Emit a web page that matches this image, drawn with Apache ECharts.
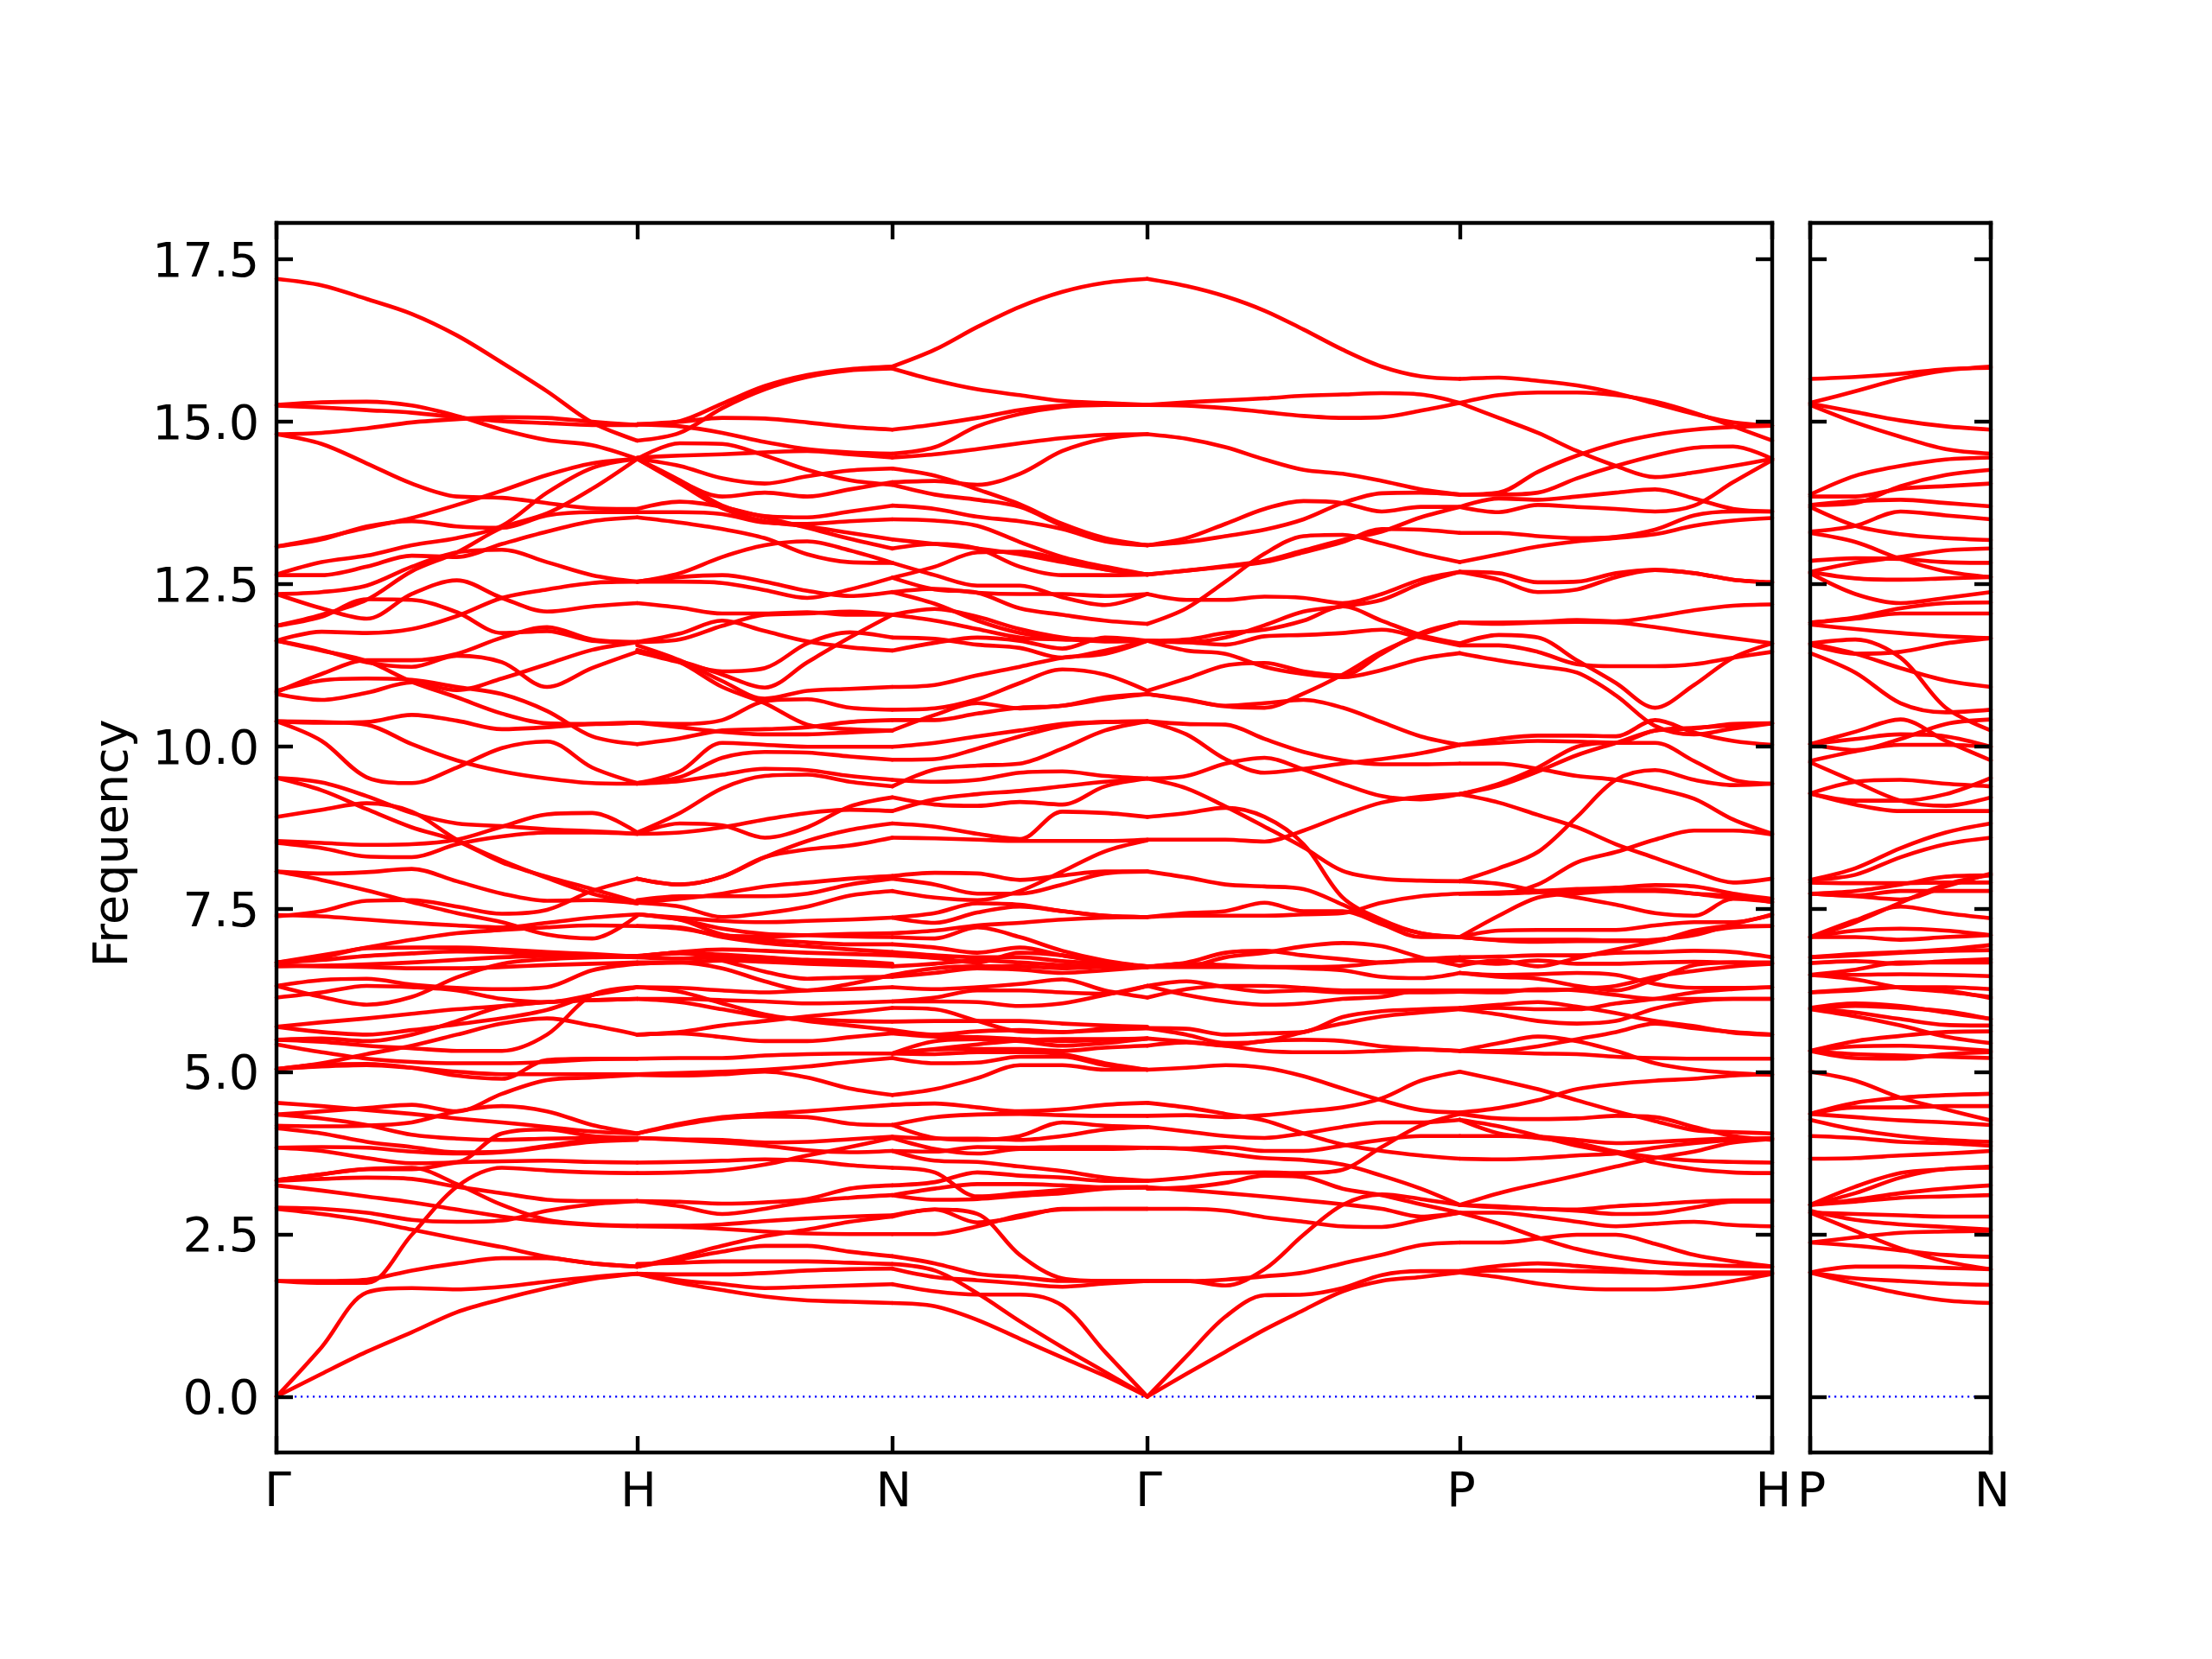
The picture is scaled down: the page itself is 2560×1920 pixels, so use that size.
<!DOCTYPE html>
<html><head><meta charset="utf-8">
<style>html,body{margin:0;padding:0;background:#fff}#c{width:2560px;height:1920px}</style>
<script src="https://cdn.jsdelivr.net/npm/echarts@6/dist/echarts.min.js"></script>
</head><body><div id="c"></div>
<script>
const mainTicks=[0,1,1.7071,2.4142,3.2802,4.1463];
const mainLabels=['Γ','H','N','Γ','P','H'];
const sideTicks=[0,0.5];
const sideLabels=['P','N'];
const yTicks=[0,2.5,5,7.5,10,12.5,15,17.5];
const gammaH=[
[17.2,17.1,16.89,16.66,16.33,15.91,15.47,14.99,14.71],
[15.26,15.30,15.31,15.25,15.09,14.88,14.72,14.64,14.43],
[15.25,15.22,15.18,15.14,15.07,15.01,14.98,14.95,14.95],
[14.81,14.83,14.90,14.99,15.04,15.07,15.06,15.0,14.95],
[14.81,14.66,14.36,14.05,13.85,13.83,13.75,13.67,13.66],
[13.08,13.21,13.37,13.52,13.72,13.94,14.18,14.36,14.43],
[13.08,13.19,13.39,13.47,13.39,13.37,13.56,13.61,13.61],
[12.65,12.84,12.94,13.1,13.21,13.4,13.91,14.29,14.43],
[11.86,12.03,12.26,12.70,12.99,13.37,13.59,13.97,14.43],
[12.64,12.64,12.77,12.94,12.92,13.12,13.31,13.47,13.53],
[12.35,12.38,12.48,12.77,12.99,13.03,12.84,12.64,12.54],
[11.63,11.77,11.75,11.81,12.01,12.29,12.42,12.52,12.54],
[12.35,12.13,11.97,12.35,12.56,12.29,12.08,12.16,12.21],
[11.86,12.0,12.27,12.26,12.07,11.75,11.78,11.63,11.61],
[11.63,11.49,11.3,11.23,11.4,11.3,10.92,11.21,11.46],
[11.63,11.48,11.32,11.0,10.76,10.51,10.36,10.35,10.37],
[10.81,10.72,10.83,10.99,10.87,11.05,11.27,11.49,11.61],
[10.86,11.02,11.05,11.03,10.92,10.81,10.55,10.16,10.04],
[10.84,11.12,11.33,11.33,11.43,11.68,11.84,11.65,11.61],
[10.39,10.37,10.38,10.49,10.4,10.27,10.3,10.35,10.37],
[10.39,10.38,10.34,10.04,9.79,9.62,9.51,9.44,9.43],
[10.39,10.09,9.53,9.44,9.68,9.98,10.08,9.68,9.44],
[9.52,9.45,9.24,8.98,8.82,8.78,8.73,8.70,8.66],
[9.52,9.33,9.04,8.76,8.55,8.22,8.0,7.81,7.61],
[8.92,9.03,9.13,9.0,8.57,8.25,7.98,7.74,7.59],
[8.55,8.52,8.49,8.5,8.57,8.77,8.96,8.98,8.68],
[8.52,8.44,8.31,8.3,8.5,8.62,8.68,8.68,8.66],
[8.08,8.05,8.07,8.12,7.93,7.74,7.63,7.64,7.59],
[8.08,7.95,7.79,7.61,7.44,7.30,7.11,7.05,7.40],
[7.39,7.47,7.63,7.64,7.54,7.43,7.49,7.78,7.97],
[7.41,7.39,7.34,7.29,7.25,7.22,7.29,7.37,7.42],
[6.68,6.79,6.91,7.03,7.13,7.18,7.22,7.25,7.24],
[6.68,6.76,6.9,6.91,6.91,6.88,6.84,6.81,6.77],
[6.68,6.72,6.78,6.82,6.85,6.84,6.8,6.78,6.76],
[6.62,6.63,6.65,6.68,6.72,6.76,6.78,6.78,6.78],
[6.64,6.62,6.61,6.59,6.59,6.61,6.64,6.66,6.68],
[6.32,6.41,6.43,6.34,6.29,6.27,6.3,6.56,6.66],
[6.32,6.15,6.03,6.15,6.45,6.66,6.73,6.76,6.77],
[6.14,6.22,6.32,6.3,6.25,6.12,6.07,6.18,6.3],
[5.69,5.76,5.82,5.89,5.96,6.01,6.07,6.10,6.12],
[5.69,5.61,5.57,5.64,5.73,5.82,5.95,6.18,6.3],
[5.49,5.51,5.47,5.57,5.78,6.0,6.07,6.1,6.12],
[5.49,5.46,5.4,5.36,5.32,5.32,5.57,6.18,6.3],
[5.42,5.3,5.2,5.15,5.13,5.13,5.15,5.19,5.2],
[5.04,5.13,5.27,5.4,5.57,5.74,5.82,5.71,5.57],
[5.04,5.11,5.12,5.06,4.94,4.89,5.18,5.2,5.2],
[5.04,5.08,5.1,5.06,5.0,4.96,4.96,4.96,4.96],
[4.52,4.47,4.41,4.35,4.28,4.22,4.15,4.08,4.05],
[4.34,4.39,4.44,4.49,4.39,4.66,4.87,4.91,4.95],
[4.34,4.28,4.18,4.03,3.97,3.95,3.97,3.98,3.98],
[4.17,4.16,4.17,4.22,4.39,4.47,4.39,4.18,4.05],
[4.13,4.05,3.92,3.84,3.76,3.77,3.86,3.95,3.98],
[3.83,3.84,3.83,3.77,3.74,3.76,3.84,3.92,3.95],
[3.83,3.78,3.67,3.59,3.61,4.05,4.11,4.01,3.98],
[3.32,3.35,3.37,3.35,3.23,3.13,3.03,3.01,3.01],
[3.33,3.42,3.5,3.52,3.27,2.95,2.72,2.65,2.63],
[3.33,3.42,3.5,3.5,3.6,3.62,3.63,3.61,3.6],
[3.25,3.17,3.08,2.99,2.88,2.77,2.69,2.64,2.62],
[2.91,2.89,2.83,2.72,2.69,2.71,2.86,2.96,3.01],
[2.89,2.81,2.71,2.57,2.43,2.3,2.15,2.05,2.0],
[0,0.76,1.6,1.67,1.65,1.69,1.77,1.84,1.89],
[0,0.35,0.69,0.99,1.3,1.5,1.67,1.81,1.89],
[1.78,1.75,1.75,2.49,3.23,3.52,3.48,3.45,3.44],
[1.78,1.78,1.8,1.94,2.05,2.13,2.13,2.05,2.0]
];
const hN=[
[14.96,15.01,15.28,15.55,15.72,15.81,15.85],
[14.71,14.83,15.21,15.5,15.69,15.79,15.82],
[14.96,15.0,15.06,15.05,14.99,14.92,14.88],
[14.96,14.93,14.83,14.69,14.58,14.53,14.51],
[14.45,14.48,14.5,14.53,14.55,14.5,14.45],
[14.43,14.67,14.66,14.48,14.26,14.1,14.03],
[14.43,14.32,14.13,14.05,14.16,14.25,14.28],
[14.43,14.09,13.85,13.91,13.85,13.96,14.07],
[14.43,14.05,13.67,13.47,13.39,13.29,13.19],
[14.43,14.1,13.71,13.55,13.53,13.62,13.71],
[13.61,13.61,13.58,13.45,13.43,13.47,13.5],
[13.66,13.77,13.69,13.53,13.37,13.2,13.05],
[13.53,13.45,13.35,13.21,12.96,12.84,12.83],
[12.54,12.61,12.64,12.54,12.4,12.32,12.38],
[12.54,12.54,12.52,12.41,12.29,12.42,12.6],
[12.54,12.67,12.92,13.1,13.16,13.02,12.83],
[12.21,12.14,12.05,12.05,12.07,12.03,12.03],
[11.61,11.74,11.94,11.78,11.62,11.53,11.48],
[11.61,11.65,11.86,12.03,12.05,12.08,12.03],
[11.46,11.3,11.16,11.21,11.59,11.76,11.68],
[11.46,11.32,11.11,10.91,11.3,11.68,12.03],
[11.56,11.33,11.01,10.74,10.86,10.89,10.92],
[11.49,11.3,10.92,10.67,10.34,10.27,10.25],
[10.37,10.35,10.41,10.7,10.73,10.6,10.57],
[10.04,10.13,10.25,10.27,10.3,10.38,10.41],
[10.37,10.3,10.23,10.19,10.19,10.22,10.25],
[9.44,9.62,10.06,10.03,10.0,10.0,10.0],
[9.44,9.53,9.83,9.92,9.91,9.85,9.8],
[9.43,9.47,9.57,9.66,9.64,9.55,9.49],
[8.68,8.98,9.36,9.55,9.57,9.46,9.39],
[8.66,8.82,8.79,8.6,8.76,9.08,9.22],
[8.66,8.68,8.76,8.88,8.98,9.03,9.01],
[7.97,7.88,8.0,8.3,8.42,8.48,8.6],
[7.97,7.88,8.0,8.3,8.55,8.72,8.82],
[7.61,7.66,7.74,7.85,7.91,7.97,8.01],
[7.6,7.54,7.38,7.44,7.54,7.71,7.78],
[7.64,7.7,7.7,7.7,7.74,7.88,7.97],
[7.42,7.37,7.32,7.3,7.32,7.34,7.37],
[7.24,7.2,7.1,7.08,7.1,7.12,7.13],
[7.42,7.34,7.2,7.12,7.1,7.08,7.07],
[7.24,7.22,7.07,6.98,6.93,6.88,6.84],
[7.42,7.34,7.11,7.03,6.99,6.96,6.96],
[6.77,6.84,6.88,6.86,6.83,6.81,6.79],
[6.78,6.82,6.8,6.76,6.72,6.7,6.66],
[6.76,6.74,6.76,6.72,6.68,6.66,6.64],
[6.68,6.68,6.71,6.69,6.66,6.64,6.62],
[6.66,6.68,6.59,6.39,6.25,6.35,6.49],
[6.77,6.83,6.71,6.54,6.43,6.45,6.46],
[6.3,6.29,6.25,6.22,6.25,6.27,6.3],
[6.12,6.12,6.1,6.08,6.05,6.06,6.08],
[6.3,6.23,6.05,5.88,5.78,5.71,5.64],
[6.12,6.07,5.96,5.85,5.81,5.78,5.77],
[5.57,5.61,5.71,5.78,5.85,5.91,5.98],
[5.57,5.59,5.53,5.47,5.47,5.53,5.59],
[5.2,5.21,5.21,5.25,5.27,5.28,5.28],
[4.96,4.98,5.0,5.03,5.08,5.15,5.21],
[4.95,4.94,4.96,5.0,4.91,4.74,4.64],
[4.05,4.2,4.3,4.35,4.39,4.44,4.49],
[4.05,4.18,4.28,4.31,4.3,4.2,4.18],
[3.98,3.96,3.95,3.91,3.92,3.96,4.0],
[3.98,3.95,3.91,3.86,3.79,3.76,3.78],
[3.44,3.45,3.48,3.57,3.71,3.84,3.98],
[3.6,3.61,3.63,3.65,3.63,3.56,3.52],
[3.01,3.0,2.97,2.99,3.04,3.2,3.25],
[3.01,2.93,2.81,2.89,3.0,3.06,3.1],
[2.63,2.63,2.65,2.7,2.74,2.77,2.79],
[2.62,2.61,2.58,2.54,2.51,2.5,2.5],
[2.0,2.15,2.32,2.47,2.57,2.69,2.77],
[2.0,2.11,2.23,2.32,2.32,2.23,2.16],
[2.04,2.06,2.08,2.08,2.08,2.06,2.04],
[1.89,1.88,1.88,1.9,1.94,1.96,1.97],
[1.89,1.79,1.73,1.67,1.69,1.71,1.73],
[1.89,1.75,1.64,1.54,1.48,1.46,1.44]
];
const nGamma=[
[15.85,16.11,16.46,16.77,17.0,17.14,17.2],
[15.82,15.64,15.5,15.41,15.32,15.29,15.26],
[14.88,14.96,15.06,15.18,15.25,15.26,15.26],
[14.51,14.61,14.93,15.12,15.23,15.26,15.26],
[14.45,14.5,14.58,14.67,14.75,14.8,14.81],
[14.28,14.17,13.96,13.73,13.43,13.21,13.1],
[14.07,14.09,14.03,14.2,14.55,14.74,14.81],
[14.03,13.88,13.8,13.69,13.4,13.18,13.1],
[13.71,13.66,13.54,13.47,13.35,13.16,13.1],
[13.5,13.48,13.4,13.15,12.92,12.77,12.65],
[13.19,13.12,13.05,12.96,12.84,12.73,12.65],
[13.05,13.12,13.05,12.77,12.64,12.64,12.65],
[12.6,12.77,12.99,13.0,12.88,12.73,12.65],
[12.83,12.64,12.48,12.48,12.3,12.18,12.35],
[12.38,12.43,12.37,12.35,12.35,12.32,12.35],
[12.38,12.2,11.94,11.75,11.67,11.65,11.63],
[12.6,12.42,12.37,12.13,12.03,11.94,11.89],
[12.03,12.12,12.0,11.81,11.68,11.62,11.63],
[12.03,11.94,11.81,11.68,11.65,11.63,11.63],
[11.68,11.66,11.57,11.52,11.37,11.48,11.63],
[11.48,11.6,11.68,11.63,11.51,11.68,11.63],
[10.92,10.95,11.1,11.23,11.37,11.43,11.63],
[10.57,10.59,10.73,10.98,11.19,11.11,10.86],
[10.25,10.49,10.67,10.59,10.63,10.73,10.81],
[10.41,10.41,10.51,10.6,10.63,10.76,10.81],
[10.0,10.06,10.16,10.25,10.35,10.38,10.39],
[9.8,9.81,9.97,10.16,10.32,10.38,10.39],
[9.39,9.65,9.71,9.74,9.97,10.25,10.39],
[9.49,9.46,9.49,9.6,9.62,9.55,9.51],
[9.22,9.11,9.09,9.15,9.11,9.39,9.51],
[9.01,9.19,9.27,9.32,9.39,9.46,9.51],
[8.82,8.77,8.66,8.58,9.0,8.98,8.92],
[8.6,8.59,8.57,8.55,8.55,8.55,8.57],
[8.01,8.06,8.05,7.95,8.02,8.08,8.08],
[7.78,7.68,7.64,7.78,8.08,8.39,8.56],
[7.97,7.88,7.74,7.74,7.88,8.05,8.08],
[7.37,7.44,7.59,7.57,7.47,7.4,7.38],
[7.37,7.29,7.45,7.54,7.47,7.4,7.38],
[7.13,7.17,7.25,7.29,7.34,7.37,7.38],
[7.07,7.05,7.22,7.07,6.86,6.71,6.62],
[6.96,6.91,6.83,6.91,6.79,6.68,6.62],
[6.84,6.79,6.76,6.76,6.7,6.66,6.62],
[6.79,6.75,6.68,6.83,6.79,6.68,6.62],
[6.62,6.66,6.71,6.68,6.64,6.62,6.61],
[6.49,6.59,6.62,6.62,6.59,6.61,6.61],
[6.46,6.52,6.59,6.57,6.52,6.56,6.61],
[6.3,6.27,6.3,6.35,6.42,6.25,6.14],
[6.08,6.14,6.25,6.25,6.22,6.2,6.32],
[6.08,6.08,6.07,6.01,6.05,6.18,6.32],
[5.98,5.96,5.78,5.62,5.61,5.64,5.67],
[5.77,5.78,5.78,5.78,5.74,5.71,5.69],
[5.64,5.57,5.62,5.64,5.61,5.66,5.67],
[5.59,5.54,5.53,5.5,5.47,5.49,5.51],
[5.28,5.47,5.5,5.47,5.4,5.44,5.51],
[5.28,5.35,5.42,5.48,5.5,5.5,5.51],
[5.28,5.34,5.35,5.35,5.32,5.37,5.4],
[5.28,5.27,5.3,5.3,5.27,5.13,5.03],
[5.21,5.13,5.14,5.23,5.23,5.1,5.03],
[4.64,4.73,4.9,5.1,5.1,5.03,5.03],
[4.49,4.51,4.45,4.39,4.42,4.49,4.52],
[4.18,4.3,4.34,4.35,4.33,4.32,4.32],
[4.18,3.98,3.95,4.01,4.22,4.17,4.15],
[4.0,3.97,3.97,3.95,4.01,4.11,4.15],
[3.98,3.81,3.74,3.81,3.81,3.81,3.83],
[3.78,3.77,3.84,3.83,3.84,3.84,3.83],
[3.78,3.63,3.61,3.54,3.47,3.37,3.32],
[3.52,3.45,3.08,3.13,3.18,3.22,3.22],
[3.25,3.3,3.45,3.4,3.37,3.32,3.32],
[3.1,3.2,3.27,3.27,3.25,3.22,3.22],
[3.1,3.03,3.04,3.09,3.13,3.2,3.22],
[2.79,2.88,2.81,2.18,1.82,1.78,1.78],
[2.5,2.5,2.62,2.79,2.88,2.89,2.89],
[2.77,2.88,2.68,2.76,2.89,2.89,2.89],
[2.16,2.05,1.89,1.84,1.78,1.78,1.78],
[2.04,1.94,1.59,1.16,0.76,0.38,0],
[1.97,1.84,1.79,1.74,1.69,1.74,1.78],
[1.73,1.62,1.57,1.57,1.4,0.69,0],
[1.44,1.39,1.18,0.89,0.6,0.32,0]
];
const gammaP=[
[17.2,17.09,16.93,16.71,16.42,16.11,15.85,15.7,15.66],
[15.26,15.3,15.33,15.36,15.4,15.42,15.44,15.42,15.29],
[15.26,15.25,15.21,15.15,15.09,15.06,15.07,15.17,15.29],
[14.81,14.74,14.61,14.42,14.26,14.2,14.09,13.96,13.88],
[13.1,13.21,13.43,13.66,13.78,13.75,13.62,13.69,13.69],
[13.1,13.15,13.24,13.34,13.5,13.75,13.9,13.91,13.88],
[11.89,12.13,12.54,12.97,13.24,13.26,13.13,12.97,12.84],
[12.65,12.71,12.77,12.84,12.99,13.15,13.35,13.34,13.29],
[12.65,12.71,12.78,12.86,13.02,13.18,13.31,13.53,13.69],
[12.35,12.26,12.26,12.31,12.29,12.21,12.35,12.57,12.69],
[11.63,11.61,11.68,11.87,12.08,12.16,12.26,12.51,12.69],
[11.63,11.48,11.43,11.23,11.12,11.07,11.18,11.35,11.44],
[11.63,11.61,11.57,11.7,11.72,11.75,11.8,11.68,11.56],
[11.63,11.65,11.75,11.8,11.94,12.16,11.94,11.72,11.59],
[10.86,11.05,11.25,11.29,11.16,11.1,11.43,11.75,11.91],
[10.81,10.72,10.62,10.6,10.82,11.11,11.46,11.72,11.91],
[10.81,10.73,10.63,10.67,10.72,10.6,10.38,10.16,10.03],
[10.39,10.35,10.34,10.12,9.92,9.79,9.73,9.73,9.74],
[10.39,10.19,9.81,9.6,9.66,9.74,9.81,9.9,10.03],
[9.51,9.36,9.08,8.77,8.45,8.09,7.97,7.94,7.93],
[9.51,9.55,9.74,9.83,9.65,9.43,9.24,9.19,9.27],
[8.92,8.98,9.06,8.92,8.5,7.68,7.34,7.13,7.07],
[8.57,8.57,8.57,8.54,8.71,8.94,9.14,9.23,9.27],
[8.08,7.99,7.88,7.85,7.81,7.57,7.3,7.13,7.07],
[7.38,7.44,7.47,7.6,7.47,7.47,7.27,7.07,7.07],
[7.38,7.4,7.4,7.4,7.42,7.44,7.6,7.7,7.74],
[6.62,6.62,6.76,6.83,6.93,6.98,6.93,6.76,6.63],
[6.62,6.68,6.83,6.86,6.79,6.73,6.68,6.73,6.76],
[6.61,6.61,6.61,6.61,6.59,6.56,6.46,6.44,6.52],
[6.61,6.66,6.64,6.61,6.61,6.62,6.68,6.71,6.71],
[6.32,6.39,6.3,6.23,6.25,6.22,6.22,6.22,6.23],
[6.14,6.27,6.32,6.32,6.29,6.25,6.25,6.25,6.25],
[6.32,6.18,6.08,6.03,6.05,6.12,6.15,6.25,6.25],
[5.67,5.57,5.44,5.47,5.61,5.74,5.85,5.91,5.96],
[5.67,5.66,5.57,5.59,5.61,5.84,5.93,5.96,5.98],
[5.51,5.46,5.4,5.32,5.3,5.3,5.32,5.34,5.32],
[5.4,5.45,5.4,5.47,5.49,5.47,5.39,5.35,5.32],
[5.03,5.06,5.1,5.06,4.93,4.74,4.56,4.41,4.37],
[4.52,4.45,4.35,4.25,4.05,3.88,3.78,3.71,3.66],
[4.32,4.33,4.3,4.33,4.39,4.45,4.59,4.86,5.0],
[4.15,4.08,4.01,3.98,4.05,4.15,4.22,4.22,4.26],
[3.83,3.82,3.84,3.78,3.78,3.86,3.95,4.01,4.01],
[3.83,3.81,3.74,3.67,3.64,3.57,3.4,3.2,2.95],
[3.32,3.37,3.44,3.45,3.44,3.49,3.84,4.17,4.35],
[3.22,3.18,3.13,3.08,3.02,2.96,2.89,2.77,2.83],
[3.2,3.22,3.29,3.4,3.38,3.2,3.1,2.96,2.83],
[1.78,1.78,1.71,1.96,2.49,2.95,3.11,3.04,2.95],
[2.89,2.89,2.86,2.76,2.69,2.62,2.61,2.72,2.83],
[1.78,1.78,1.8,1.85,1.91,2.05,2.18,2.33,2.37],
[0,0.62,1.23,1.56,1.57,1.67,1.87,1.93,1.93],
[0,0.35,0.69,1.03,1.33,1.62,1.78,1.84,1.91]
];
const pH=[
[15.66,15.68,15.63,15.56,15.44,15.28,15.12,14.99,14.94],
[15.29,15.41,15.45,15.45,15.41,15.31,15.14,14.93,14.71],
[15.29,15.06,14.83,14.55,14.32,14.15,14.22,14.32,14.43],
[13.88,13.91,14.23,14.48,14.67,14.8,14.88,14.92,14.94],
[13.88,13.88,13.91,14.13,14.32,14.48,14.6,14.62,14.43],
[13.69,13.61,13.72,13.69,13.66,13.62,13.71,14.07,14.41],
[13.69,13.82,13.8,13.85,13.91,13.96,13.82,13.66,13.62],
[13.29,13.29,13.24,13.21,13.23,13.34,13.56,13.62,13.62],
[12.84,12.96,13.08,13.16,13.21,13.27,13.4,13.48,13.52],
[12.69,12.67,12.53,12.54,12.67,12.72,12.67,12.57,12.53],
[12.69,12.57,12.38,12.42,12.61,12.72,12.67,12.57,12.53],
[11.91,11.91,11.92,11.95,11.93,12.0,12.1,12.17,12.19],
[11.91,11.89,11.91,11.92,11.91,11.84,11.75,11.67,11.59],
[11.59,11.72,11.68,11.33,10.98,10.6,10.95,11.37,11.59],
[11.56,11.56,11.46,11.27,11.24,11.24,11.27,11.37,11.46],
[11.44,11.33,11.24,11.14,10.79,10.32,10.19,10.28,10.36],
[10.03,10.12,10.17,10.17,10.16,10.41,10.22,10.09,10.03],
[10.03,10.06,10.09,10.08,10.06,10.25,10.28,10.35,10.36],
[9.74,9.74,9.66,9.55,9.49,9.36,9.2,8.88,8.66],
[9.27,9.43,9.68,10.0,10.06,10.06,9.78,9.49,9.43],
[9.27,9.4,9.62,9.87,10.06,10.25,10.29,10.33,10.36],
[9.27,9.14,8.95,8.76,8.5,8.29,8.08,7.91,7.97],
[7.93,8.13,8.38,8.92,9.49,9.64,9.49,9.41,9.43],
[7.74,7.74,7.88,8.22,8.38,8.57,8.71,8.71,8.65],
[7.93,7.89,7.78,7.68,7.57,7.44,7.4,7.66,7.61],
[7.74,7.76,7.78,7.81,7.83,7.87,7.85,7.74,7.66],
[7.74,7.74,7.76,7.78,7.79,7.8,7.74,7.67,7.66],
[7.07,7.4,7.68,7.74,7.78,7.78,7.74,7.7,7.61],
[7.07,7.17,7.18,7.18,7.18,7.25,7.3,7.3,7.42],
[7.07,7.02,7.0,7.01,7.01,7.03,7.1,7.27,7.41],
[7.07,7.03,7.03,7.03,7.02,7.02,7.17,7.24,7.24],
[6.76,6.77,6.79,6.79,6.83,6.84,6.86,6.84,6.76],
[6.63,6.71,6.62,6.75,6.88,7.0,7.13,7.22,7.24],
[6.71,6.66,6.71,6.66,6.66,6.68,6.69,6.68,6.68],
[6.52,6.46,6.43,6.32,6.25,6.42,6.64,6.68,6.66],
[6.52,6.49,6.5,6.52,6.49,6.35,6.29,6.29,6.3],
[6.23,6.22,6.27,6.25,6.18,6.12,6.12,6.12,6.12],
[6.25,6.25,6.25,6.27,6.32,6.46,6.55,6.62,6.66],
[5.98,6.03,6.07,6.0,5.9,5.78,5.7,5.6,5.57],
[5.96,5.88,5.78,5.74,5.78,5.97,6.08,6.12,6.12],
[5.96,5.98,5.96,5.96,6.05,6.12,6.22,6.27,6.3],
[5.32,5.44,5.54,5.47,5.32,5.13,5.03,4.98,4.95],
[5.32,5.32,5.39,5.5,5.61,5.74,5.67,5.61,5.57],
[5.32,5.3,5.28,5.27,5.23,5.21,5.2,5.2,5.2],
[5.0,4.87,4.73,4.56,4.39,4.24,4.1,4.07,4.05],
[4.37,4.44,4.56,4.73,4.81,4.86,4.89,4.94,4.96],
[4.35,4.28,4.27,4.28,4.32,4.3,4.15,4.01,3.95],
[4.26,4.16,4.01,3.86,3.75,3.6,3.5,3.45,3.44],
[4.01,4.01,4.0,3.95,3.9,3.92,3.95,3.97,3.97],
[3.66,3.65,3.67,3.71,3.74,3.83,3.9,3.95,3.98],
[4.26,4.05,3.98,3.9,3.77,3.68,3.63,3.61,3.6],
[2.95,3.13,3.27,3.4,3.54,3.67,3.77,3.91,3.96],
[2.95,2.91,2.89,2.86,2.81,2.82,2.91,3.0,3.0],
[2.95,2.93,2.89,2.88,2.93,2.96,3.0,3.02,3.02],
[2.83,2.83,2.77,2.69,2.62,2.66,2.69,2.64,2.62],
[2.83,2.66,2.45,2.27,2.15,2.07,2.03,2.01,2.0],
[2.37,2.37,2.43,2.49,2.49,2.35,2.18,2.08,2.0],
[1.93,2.01,2.05,2.01,1.96,1.91,1.89,1.89,1.89],
[1.91,1.84,1.74,1.67,1.65,1.65,1.69,1.78,1.89],
[1.93,1.94,1.94,1.93,1.92,1.91,1.91,1.91,1.91]
];
const pN=[
[15.66,15.69,15.74,15.81,15.83],[15.29,15.47,15.66,15.79,15.85],
[15.28,15.15,15.02,14.93,14.88],[15.26,14.99,14.77,14.58,14.51],
[13.88,14.17,14.32,14.42,14.45],[13.72,13.75,14.01,14.18,14.26],
[13.85,13.85,13.97,14.01,14.05],[13.72,13.78,13.8,13.75,13.7],
[13.69,13.4,13.27,13.21,13.18],[13.31,13.4,13.62,13.56,13.5],
[13.29,13.15,12.89,12.7,12.61],[12.86,12.9,12.89,12.84,12.83],
[12.69,12.83,12.92,13.02,13.05],[12.69,12.59,12.57,12.59,12.61],
[12.67,12.35,12.21,12.29,12.38],[11.91,11.97,12.05,12.05,12.05],
[11.91,11.99,12.13,12.21,12.22],[11.88,11.81,11.75,11.7,11.67],
[11.59,11.65,11.37,10.6,10.25],[11.59,11.43,11.21,11.02,10.92],
[11.57,11.43,11.46,11.59,11.67],[11.44,11.14,10.67,10.53,10.57],
[10.04,10.23,10.42,10.09,9.79],[10.04,10.12,10.19,10.16,10.0],
[10.04,9.95,10.12,10.35,10.42],[9.78,9.93,10.03,10.03,10.0],
[9.76,9.46,9.17,9.09,9.22],[9.28,9.46,9.49,9.43,9.39],
[9.28,9.17,9.17,9.27,9.52],[9.28,9.11,9.01,9.01,9.01],
[7.95,8.13,8.44,8.68,8.82],[7.95,8.03,8.3,8.5,8.6],
[7.91,7.9,7.9,7.91,7.91],[7.74,7.71,7.78,7.78,7.78],
[7.74,7.7,7.65,7.85,8.05],[7.74,7.78,7.88,8.0,8.02],
[7.07,7.33,7.54,7.44,7.36],[7.07,7.3,7.6,7.88,8.03],
[7.07,7.17,7.2,7.17,7.1],[7.07,7.07,7.03,7.07,7.1],
[6.76,6.81,6.84,6.88,6.95],[6.67,6.7,6.66,6.7,6.73],
[6.76,6.79,6.83,6.86,6.87],[6.49,6.57,6.68,6.68,6.68],
[6.49,6.42,6.29,6.23,6.15],[6.49,6.49,6.5,6.49,6.47],
[6.22,6.25,6.3,6.3,6.27],[6.22,6.27,6.3,6.25,6.13],
[5.98,6.05,6.01,5.91,5.81],[5.98,5.91,5.81,5.72,5.71],
[5.96,5.85,5.71,5.54,5.44],[5.96,6.01,5.98,5.93,5.81],
[5.32,5.47,5.55,5.61,5.62],[5.32,5.39,5.4,5.37,5.32],
[5.32,5.27,5.25,5.23,5.21],[5.32,5.21,5.2,5.27,5.3],
[5.0,4.86,4.6,4.42,4.25],[4.35,4.52,4.6,4.64,4.66],
[4.35,4.45,4.45,4.47,4.47],[4.35,4.3,4.25,4.22,4.18],
[4.26,4.11,4.01,3.95,3.92],[4.01,3.98,3.92,3.9,3.86],
[3.66,3.67,3.71,3.74,3.78],[2.95,3.23,3.44,3.5,3.54],
[2.95,3.13,3.37,3.5,3.52],[2.95,3.03,3.13,3.2,3.25],
[2.95,3.0,3.06,3.08,3.1],[2.83,2.81,2.79,2.77,2.77],
[2.86,2.72,2.65,2.61,2.57],[2.83,2.55,2.28,2.08,1.96],
[2.37,2.45,2.52,2.54,2.55],[2.37,2.32,2.25,2.18,2.15],
[1.91,2.0,2.0,1.98,1.96],[1.91,1.82,1.78,1.74,1.72],
[1.91,1.74,1.59,1.48,1.44]
];

const FONT='"DejaVu Sans"',FS=55.6,LW=4.6,AX=4.4,TL=19;
const yMin=-0.86,yMax=18.06;
const series=[];
function zeroLine(g,x0,x1){
  series.push({type:'line',xAxisIndex:g,yAxisIndex:g,data:[[x0,0],[x1,0]],symbol:'none',silent:true,z:1,
    lineStyle:{color:'#0000ff',width:2.2,type:[2.2,4.8]}});
}
zeroLine(0,mainTicks[0],mainTicks[5]);
zeroLine(2,sideTicks[0],sideTicks[1]);
function addSegment(bands,x0,x1,g){
  bands.forEach(b=>{
    series.push({type:'line',xAxisIndex:g,yAxisIndex:g,symbol:'none',silent:true,smooth:0.33,z:2,
      lineStyle:{color:'#ff0000',width:LW,cap:'round',join:'round'},
      data:b.map((v,i)=>[x0+(x1-x0)*i/(b.length-1),v])});
  });
}
[gammaH,hN,nGamma,gammaP,pH].forEach((bands,i)=>addSegment(bands,mainTicks[i],mainTicks[i+1],0));
addSegment(pN,sideTicks[0],sideTicks[1],2);

const line={show:true,onZero:false,lineStyle:{color:'#000',width:AX,cap:'square'}};
function xAx(grid,ticks,labels,pos,show){
  return {type:'value',gridIndex:grid,position:pos,min:ticks[0],max:ticks[ticks.length-1],z:10,
    axisLine:line,splitLine:{show:false},
    axisTick:{show:true,inside:true,length:TL,customValues:ticks,lineStyle:{color:'#000',width:AX}},
    axisLabel:show?{show:true,customValues:ticks,margin:20,showMinLabel:true,showMaxLabel:true,hideOverlap:false,
      padding:[0,0,0,3],fontFamily:FONT,fontSize:FS,color:'#000',formatter:(v,i)=>labels[ticks.indexOf(v)]}:{show:false}};
}
function yAx(grid,pos,show,name){
  return {type:'value',gridIndex:grid,position:pos,min:yMin,max:yMax,z:10,
    name:name||'',nameLocation:'middle',nameGap:159,nameRotate:90,
    nameTextStyle:{fontFamily:FONT,fontSize:FS,color:'#000',padding:[0,13,0,0]},
    axisLine:line,splitLine:{show:false},
    axisTick:{show:true,inside:true,length:TL,customValues:yTicks,lineStyle:{color:'#000',width:AX}},
    axisLabel:show?{show:true,customValues:yTicks,margin:20,verticalAlign:'top',lineHeight:10,fontFamily:FONT,fontSize:FS,color:'#000',
      formatter:v=>v.toFixed(1)}:{show:false}};
}
const chart=echarts.init(document.getElementById('c'),null,{renderer:'canvas',width:2560,height:1920});
const g1={left:320,top:258,width:1731,height:1423};
const g2={left:2095,top:258,width:209,height:1423};
chart.setOption({
  animation:false,backgroundColor:'#fff',
  grid:[g1,g2],
  xAxis:[
    xAx(0,mainTicks,mainLabels,'bottom',true),
    xAx(0,mainTicks,mainLabels,'top',false),
    xAx(1,sideTicks,sideLabels,'bottom',true),
    xAx(1,sideTicks,sideLabels,'top',false)
  ],
  yAxis:[
    yAx(0,'left',true,'Frequency'),
    yAx(0,'right',false),
    yAx(1,'left',false),
    yAx(1,'right',false)
  ],
  series
});
</script></body></html>
